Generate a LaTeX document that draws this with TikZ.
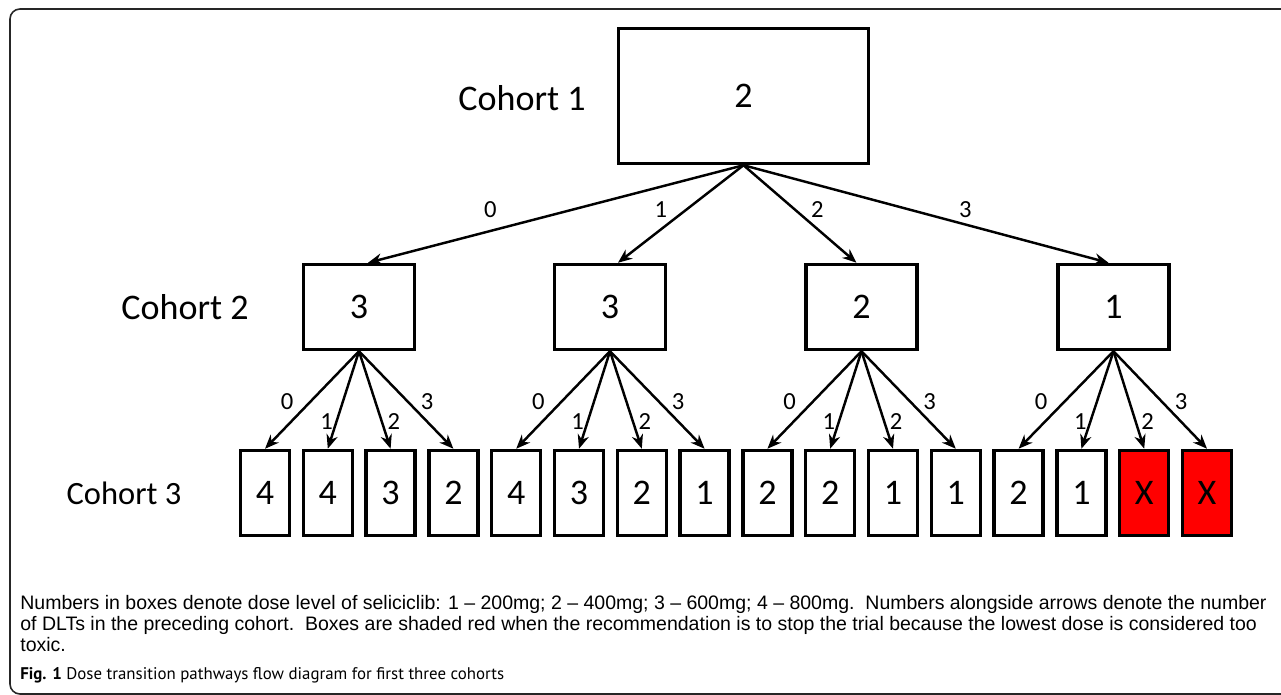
\documentclass[tikz,border=0pt]{standalone}
\usepackage{fontspec}
\setmainfont{Carlito}
\newfontfamily\notefont{Liberation Sans}
\newfontfamily\figfont{PT Sans}
\usetikzlibrary{positioning, arrows.meta, calc}

\begin{document}
\begin{tikzpicture}[x=0.02cm, y=-0.02cm,
        cohort/.style={font=\fontsize{20.5}{24}\selectfont, inner sep=0pt},
        dose1/.style={rectangle, draw=black, line width=2pt, minimum width=5cm, minimum height=2.7cm, inner sep=0pt, font=\fontsize{20.5}{24}\selectfont},
        dose2/.style={dose1, minimum width=2.22cm, minimum height=1.7cm},
        dose3/.style={dose1, minimum width=0.98cm, minimum height=1.7cm},
        lbl/.style={font=\fontsize{14}{16}\selectfont, inner sep=0pt},
        arrow/.style={line width=1.4pt, -{Stealth[length=8pt, width=6.5pt]}},
        note/.style={anchor=base west, inner sep=0pt, font=\notefont\fontsize{11.1}{13}\selectfont},
        frame/.style={line width=0.9pt, draw=black!85, rounded corners=0.2cm}]

        \useasboundingbox (0,0) rectangle (1281,695);

        % Rahmen
        \draw[frame] (1300,9) -- (10,9) -- (10,694) -- (1300,694);

        % Kohorte 1
        \node (c1) [dose1] at (743.5,96) {2};
        \node (lab1) [cohort] at (522,98) {Cohort 1};

        % Kohorte 2
        \foreach \d/\x [count=\j] in {3/359, 3/610, 2/861.5, 1/1113.5}
            \node (c2-\j) [dose2] at (\x,307) {\d};
        \node (lab2) [cohort] at (185,307) {Cohort 2};

        % Kohorte 3 (rot = Studie stoppen)
        \foreach \d/\f [count=\i] in {4/white, 4/white, 3/white, 2/white, 4/white, 3/white, 2/white, 1/white,
                                      2/white, 2/white, 1/white, 1/white, 2/white, 1/white, X/red, X/red}
            \node (c3-\i) [dose3, fill=\f] at ({265+62.8*(\i-1)},493) {\d};
        \node (lab3) [cohort, font=\fontsize{18.5}{22}\selectfont] at (124,493) {Cohort 3};

        % Pfeile Kohorte 1 -> 2
        \draw [arrow] (c1.south) -- node[lbl, pos=.674, yshift=0.42cm] {0} ([xshift=0.18cm]c2-1.north);
        \draw [arrow] (c1.south) -- node[lbl, pos=.459, xshift=-0.5cm] {1} ([xshift=0.16cm]c2-2.north);
        \draw [arrow] (c1.south) -- node[lbl, pos=.459, xshift=0.44cm] {2} ([xshift=-0.1cm]c2-3.north);
        \draw [arrow] (c1.south) -- node[lbl, pos=.608, yshift=0.29cm] {3} ([xshift=-0.1cm]c2-4.north);

        % Pfeile Kohorte 2 -> 3
        \foreach \j in {1,...,4}
            \foreach \k/\p/\dx in {0/.52/-0.46, 1/.72/-0.2, 2/.72/0.24, 3/.52/0.38} {
                \pgfmathtruncatemacro\t{4*(\j-1)+\k+1}
                \draw [arrow] (c2-\j.south) -- node[lbl, pos=\p, xshift=\dx cm] {\k} (c3-\t.north);
            }

        % Legende
        \node (note1) [note] at (20,609) {Numbers in boxes denote dose level of seliciclib: 1 \textendash{} 200mg; 2 \textendash{} 400mg; 3 \textendash{} 600mg; 4 \textendash{} 800mg.\ \ Numbers alongside arrows denote the number};
        \node (note2) [note] at (20,630) {of DLTs in the preceding cohort.\ \ Boxes are shaded red when the recommendation is to stop the trial because the lowest dose is considered too};
        \node (note3) [note] at (20,651) {toxic.};
        \node (fig) [note, font=\figfont\fontsize{9.6}{12}\selectfont] at (20,679) {\textbf{Fig. 1} Dose transition pathways flow diagram for first three cohorts};

\end{tikzpicture}
\end{document}
